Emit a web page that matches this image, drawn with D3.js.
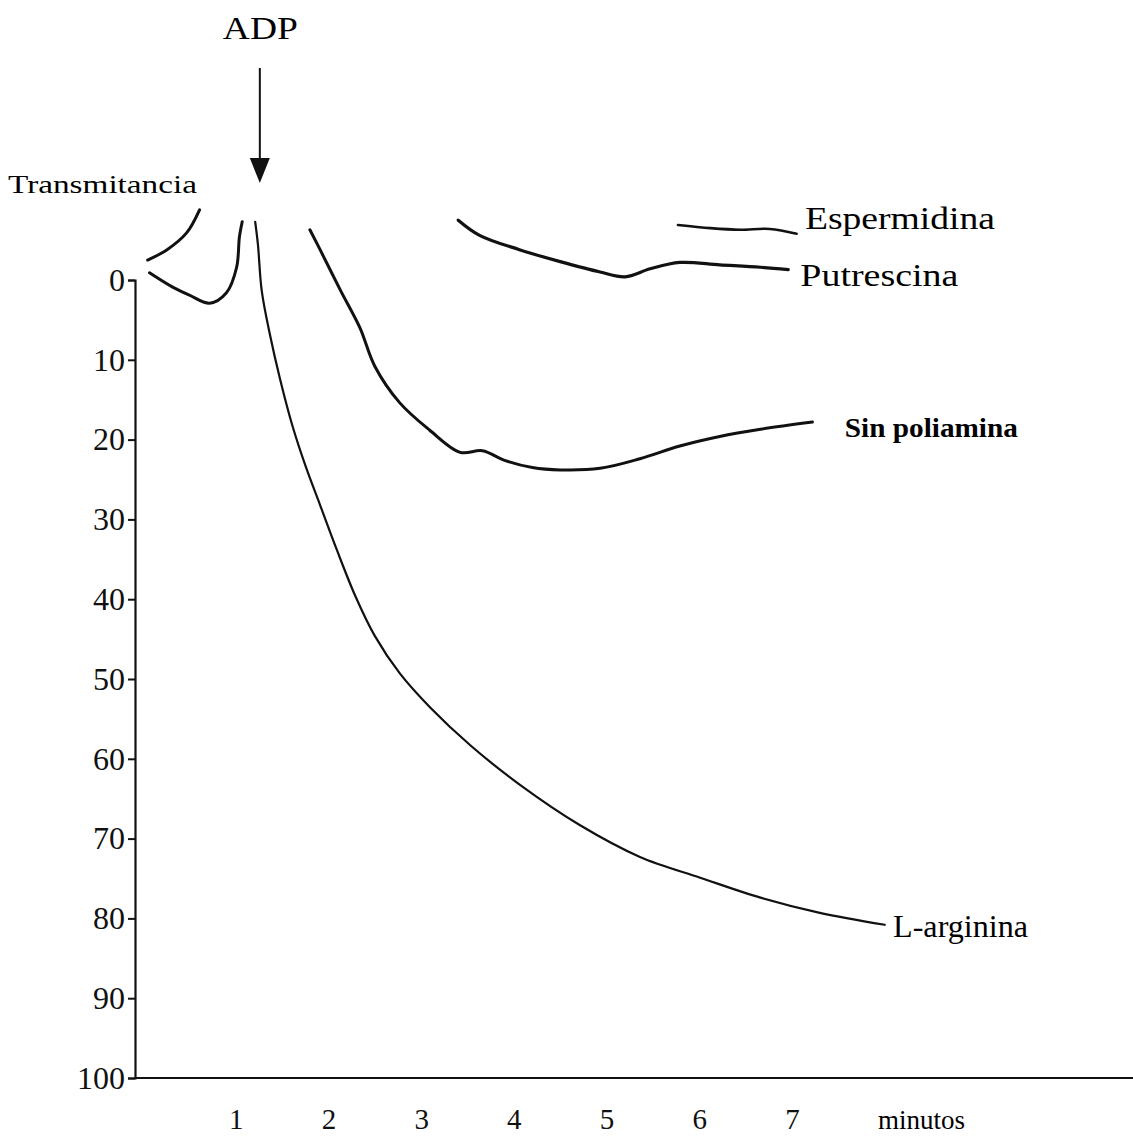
<!DOCTYPE html>
<html>
<head>
<meta charset="utf-8">
<script src="https://cdn.jsdelivr.net/npm/d3@7"></script>
<style>
  body { margin: 0; background: #fff; }
  svg { font-family: "Liberation Serif", "Times New Roman", serif; }
  .trace { fill: none; stroke: #111; stroke-linejoin: round; stroke-linecap: round; }
</style>
</head>
<body>
<svg id="chart"></svg>
<script>
var width = 1133;
var height = 1145;

// tick labels
var yTicks = [0, 10, 20, 30, 40, 50, 60, 70, 80, 90, 100];
var xTicks = [1, 2, 3, 4, 5, 6, 7];

// traces: [minutos, transmitancia]
var baseUpper = [[0.05, -2.5], [0.26, -3.8], [0.47, -5.9], [0.61, -8.8]];
var baseLower = [[0.07, -0.9], [0.32, 0.9], [0.5, 1.9], [0.72, 2.9], [0.9, 1.6], [1.01, -1.6], [1.04, -5.4], [1.07, -7.3]];
var arginina = [[1.21, -7.3], [1.24, -4.4], [1.28, 1.3], [1.37, 6.9], [1.48, 12.5], [1.61, 18.2], [1.75, 23.2],
  [1.91, 28.2], [2.09, 33.8], [2.29, 39.6], [2.50, 44.6], [2.77, 49.3], [3.10, 53.6], [3.53, 58.3],
  [4.07, 63.3], [4.71, 68.3], [5.36, 72.3], [6.01, 74.9], [6.66, 77.4], [7.30, 79.3], [8.0, 80.8]];
var sinPoliamina = [[1.80, -6.3], [1.91, -3.8], [2.13, 1.3], [2.34, 6.0], [2.50, 10.8], [2.77, 15.4], [3.09, 18.8],
  [3.42, 21.6], [3.66, 21.4], [3.90, 22.6], [4.20, 23.5], [4.50, 23.8], [4.93, 23.6], [5.36, 22.4], [5.79, 20.8],
  [6.22, 19.6], [6.66, 18.7], [7.22, 17.8]];
var putrescina = [[3.40, -7.5], [3.63, -5.6], [4.06, -3.8], [4.50, -2.3], [4.93, -1.0], [5.20, -0.4],
  [5.47, -1.4], [5.79, -2.2], [6.22, -1.9], [6.66, -1.6], [6.96, -1.3]];
var espermidina = [[5.77, -6.9], [6.12, -6.5], [6.44, -6.3], [6.76, -6.4], [7.05, -5.8]];

var adpTime = 1.26;

var x = d3.scaleLinear().domain([0, 7]).range([143, 792]);
var y = d3.scaleLinear().domain([0, 100]).range([280, 1078]);

var svg = d3.select('#chart')
  .attr('width', width)
  .attr('height', height);

// y axis
var yAxis = svg.append('g')
  .attr('transform', 'translate(135,0)')
  .call(d3.axisLeft(y).tickValues(yTicks).tickSize(7).tickPadding(3));
yAxis.select('.domain').attr('stroke', '#111').attr('stroke-width', 2.2);
yAxis.selectAll('.tick line').attr('stroke', '#111').attr('stroke-width', 2);
yAxis.selectAll('.tick text')
  .attr('fill', '#111')
  .style('font-family', '"Liberation Serif", serif')
  .style('font-size', '32px');

// x axis (labels only, plain line along the bottom)
svg.append('line')
  .attr('x1', 135).attr('x2', width)
  .attr('y1', y(100)).attr('y2', y(100))
  .attr('stroke', '#111').attr('stroke-width', 2.2);

var xAxis = svg.append('g')
  .attr('transform', 'translate(0,' + y(100) + ')')
  .call(d3.axisBottom(x).tickValues(xTicks).tickFormat(d3.format('d')).tickSize(0).tickPadding(30));
xAxis.select('.domain').remove();
xAxis.selectAll('.tick text')
  .attr('fill', '#111')
  .style('font-family', '"Liberation Serif", serif')
  .style('font-size', '29px');

svg.append('text')
  .attr('x', 878)
  .attr('y', 1129)
  .attr('textLength', 87)
  .attr('lengthAdjust', 'spacingAndGlyphs')
  .style('font-size', '27px')
  .text('minutos');

svg.append('text')
  .attr('x', 8)
  .attr('y', 193)
  .attr('textLength', 189)
  .attr('lengthAdjust', 'spacingAndGlyphs')
  .style('font-size', '25px')
  .text('Transmitancia');

// traces
var line = d3.line()
  .x(d => x(d[0]))
  .y(d => y(d[1]))
  .curve(d3.curveCatmullRom.alpha(0.5));

var traces = [
  { data: baseUpper, w: 3 },
  { data: baseLower, w: 3 },
  { data: arginina, w: 2.2 },
  { data: sinPoliamina, w: 3 },
  { data: putrescina, w: 3.2 },
  { data: espermidina, w: 2.6 }
];

svg.selectAll('.trace')
  .data(traces)
  .enter()
  .append('path')
    .classed('trace', true)
    .attr('stroke-width', d => d.w)
    .attr('d', d => line(d.data));

// labels at the trace ends
var labels = [
  { text: 'Espermidina', t: 7.14, v: -6.4, size: 32, len: 190, bold: false },
  { text: 'Putrescina', t: 7.09, v: 0.75, size: 32, len: 158, bold: false },
  { text: 'Sin poliamina', t: 7.57, v: 19.7, size: 28, len: 173, bold: true },
  { text: 'L-arginina', t: 8.09, v: 82.3, size: 32, len: 135, bold: false }
];

svg.selectAll('.lbl')
  .data(labels)
  .enter()
  .append('text')
    .classed('lbl', true)
    .attr('x', d => x(d.t))
    .attr('y', d => y(d.v))
    .attr('textLength', d => d.len)
    .attr('lengthAdjust', 'spacingAndGlyphs')
    .style('font-size', d => d.size + 'px')
    .style('font-weight', d => d.bold ? 'bold' : 'normal')
    .text(d => d.text);

// ADP arrow
svg.append('text')
  .attr('x', x(adpTime) - 37)
  .attr('y', 39)
  .attr('textLength', 75)
  .attr('lengthAdjust', 'spacingAndGlyphs')
  .style('font-size', '31px')
  .text('ADP');

svg.append('line')
  .attr('x1', x(adpTime)).attr('x2', x(adpTime))
  .attr('y1', 68).attr('y2', 162)
  .attr('stroke', '#111').attr('stroke-width', 2);

svg.append('path')
  .attr('d', 'M' + (x(adpTime) - 10) + ',158 L' + (x(adpTime) + 10) + ',158 L' + x(adpTime) + ',183 Z')
  .attr('fill', '#111');
</script>
</body>
</html>
